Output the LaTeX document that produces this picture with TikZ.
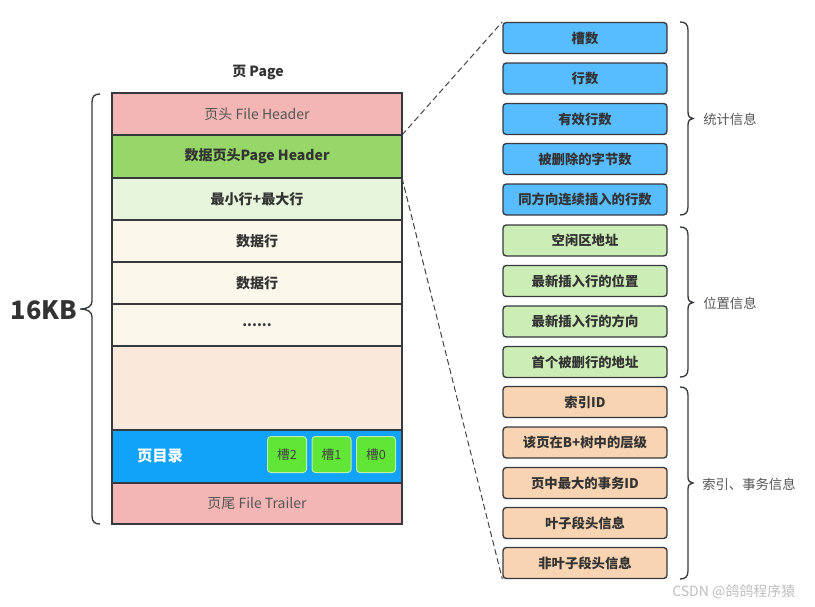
\documentclass[tikz,border=0pt]{standalone}
\usepackage{fontspec}
\setmainfont{Noto Sans CJK SC}
\usepackage{tikz}
\usepackage{xcolor}

\begin{document}
\begin{tikzpicture}[x=0.75pt,y=0.75pt,yscale=-1,xscale=1,
  row/.style={draw={rgb, 255:red, 54; green, 57; blue, 61}, line width=1pt, minimum width=217.5pt, inner sep=0pt, outer sep=0pt, text={rgb, 255:red, 51; green, 51; blue, 51}, font=\fontsize{10.5pt}{12pt}\selectfont\bfseries},
  slotbox/.style={draw={rgb, 255:red, 186; green, 240; blue, 166}, line width=0.75pt, fill={rgb, 255:red, 97; green, 229; blue, 54}, rounded corners=2.5pt, minimum width=29.25pt, minimum height=27pt, inner sep=0pt, text={rgb, 255:red, 68; green, 68; blue, 68}, font=\fontsize{9.5pt}{11pt}\selectfont},
  infobox/.style={draw={rgb, 255:red, 54; green, 57; blue, 61}, line width=1pt, rounded corners=2.5pt, minimum width=123pt, minimum height=23.25pt, inner sep=0pt, text={rgb, 255:red, 51; green, 51; blue, 51}, font=\fontsize{10pt}{12pt}\selectfont\bfseries},
  brace/.style={draw={rgb, 255:red, 54; green, 57; blue, 61}, line width=1pt},
  grouptext/.style={anchor=west, inner sep=0.75pt, text={rgb, 255:red, 85; green, 85; blue, 85}, font=\fontsize{10pt}{12pt}\selectfont},
  conn/.style={draw={rgb, 255:red, 68; green, 68; blue, 68}, line width=0.75pt, dash pattern={on 4.5pt off 2.5pt}}
]
\useasboundingbox (0,0) rectangle (815,607);

% Text Node
\node (title) at (258,72) [inner sep=0.75pt, text={rgb, 255:red, 51; green, 51; blue, 51}, font=\fontsize{10.5pt}{12pt}\selectfont\bfseries] {页 Page};

%Shape: Rectangle (page rows)
\node (fh) at (257,114) [row, minimum height=31.5pt, fill={rgb, 255:red, 244; green, 182; blue, 181}, font=\fontsize{10.5pt}{12pt}\selectfont, text={rgb, 255:red, 85; green, 85; blue, 85}] {页头 File Header};
\node (ph) at (257,156.5) [row, minimum height=32.25pt, fill={rgb, 255:red, 151; green, 215; blue, 105}] {数据页头Page Header};
\node (mm) at (257,199) [row, minimum height=31.5pt, fill={rgb, 255:red, 230; green, 245; blue, 219}] {最小行+最大行};
\node (d1) at (257,241) [row, minimum height=31.5pt, fill={rgb, 255:red, 251; green, 248; blue, 235}] {数据行};
\node (d2) at (257,283) [row, minimum height=31.5pt, fill={rgb, 255:red, 251; green, 248; blue, 235}] {数据行};
\node (dots) at (257,325) [row, minimum height=31.5pt, fill={rgb, 255:red, 251; green, 248; blue, 235}] {......};
\node (free) at (257,388) [row, minimum height=63pt, fill={rgb, 255:red, 250; green, 233; blue, 218}] {};
\node (dir) at (257,456.5) [row, minimum height=39.75pt, fill={rgb, 255:red, 17; green, 163; blue, 249}] {};
\node (ft) at (257,503.5) [row, minimum height=30.75pt, fill={rgb, 255:red, 244; green, 182; blue, 181}, font=\fontsize{10.5pt}{12pt}\selectfont, text={rgb, 255:red, 85; green, 85; blue, 85}] {页尾 File Trailer};

% Text Node
\node (dirlabel) at (160,456) [inner sep=0.75pt, text=white, font=\fontsize{11.5pt}{13pt}\selectfont\bfseries] {页目录};
%Rounded Rect (slots)
\node (s2) at (287,454.5) [slotbox] {槽2};
\node (s1) at (331.5,454.5) [slotbox] {槽1};
\node (s0) at (376,454.5) [slotbox] {槽0};

%Shape: Brace (left)
\draw [brace] (100,94) .. controls (95,94) and (92,96) .. (92,102) -- (92,301) .. controls (92,306) and (88,309) .. (80,309) .. controls (88,309) and (92,312) .. (92,317) -- (92,516) .. controls (92,522) and (95,524) .. (100,524);
% Text Node
\node (size) at (44,310) [inner sep=0.75pt, text={rgb, 255:red, 51; green, 51; blue, 51}, font=\fontsize{19pt}{22pt}\selectfont\bfseries] {16KB};

%Rounded Rect (statistics)
\node (r1) at (585,38) [infobox, fill={rgb, 255:red, 88; green, 189; blue, 255}] {槽数};
\node (r2) at (585,78.5) [infobox, fill={rgb, 255:red, 88; green, 189; blue, 255}] {行数};
\node (r3) at (585,119) [infobox, fill={rgb, 255:red, 88; green, 189; blue, 255}] {有效行数};
\node (r4) at (585,159) [infobox, fill={rgb, 255:red, 88; green, 189; blue, 255}] {被删除的字节数};
\node (r5) at (585,199.5) [infobox, fill={rgb, 255:red, 88; green, 189; blue, 255}] {同方向连续插入的行数};
%Rounded Rect (positions)
\node (r6) at (585,240.5) [infobox, fill={rgb, 255:red, 205; green, 237; blue, 183}] {空闲区地址};
\node (r7) at (585,281) [infobox, fill={rgb, 255:red, 205; green, 237; blue, 183}] {最新插入行的位置};
\node (r8) at (585,321.5) [infobox, fill={rgb, 255:red, 205; green, 237; blue, 183}] {最新插入行的方向};
\node (r9) at (585,362) [infobox, fill={rgb, 255:red, 205; green, 237; blue, 183}] {首个被删行的地址};
%Rounded Rect (index and transaction)
\node (r10) at (585,402) [infobox, fill={rgb, 255:red, 248; green, 212; blue, 178}] {索引ID};
\node (r11) at (585,442.5) [infobox, fill={rgb, 255:red, 248; green, 212; blue, 178}] {该页在B+树中的层级};
\node (r12) at (585,483) [infobox, fill={rgb, 255:red, 248; green, 212; blue, 178}] {页中最大的事务ID};
\node (r13) at (585,523) [infobox, fill={rgb, 255:red, 248; green, 212; blue, 178}] {叶子段头信息};
\node (r14) at (585,563) [infobox, fill={rgb, 255:red, 248; green, 212; blue, 178}] {非叶子段头信息};

%Straight Lines (zoom)
\draw [conn] (ph.north east) -- (r1.north west);
\draw [conn] (ph.south east) -- (r14.south west);

%Shape: Brace (right)
\draw [brace] (680,22) .. controls (685,22) and (688,24) .. (688,30) -- (688,112) .. controls (688,116.5) and (690,118.5) .. (693,118.5) .. controls (690,118.5) and (688,120.5) .. (688,125) -- (688,207) .. controls (688,213) and (685,215) .. (680,215);
\draw [brace] (680,227) .. controls (685,227) and (688,229) .. (688,235) -- (688,296) .. controls (688,300.5) and (690,302.5) .. (693,302.5) .. controls (690,302.5) and (688,304.5) .. (688,309) -- (688,369) .. controls (688,375) and (685,377) .. (680,377);
\draw [brace] (680,387) .. controls (685,387) and (688,389) .. (688,395) -- (688,477) .. controls (688,481) and (690,483) .. (693,483) .. controls (690,483) and (688,485) .. (688,489) -- (688,571) .. controls (688,577) and (685,579) .. (680,579);

% Text Node
\node (g1) at (702,119) [grouptext] {统计信息};
% Text Node
\node (g2) at (702,303) [grouptext] {位置信息};
% Text Node
\node (g3) at (701,484) [grouptext] {索引、事务信息};
% Text Node
\node (mark) at (671,592) [anchor=west, inner sep=0.75pt, text={rgb, 255:red, 190; green, 190; blue, 190}, font=\fontsize{10.5pt}{12pt}\selectfont] {CSDN @鸽鸽程序猿};

\end{tikzpicture}
\end{document}
